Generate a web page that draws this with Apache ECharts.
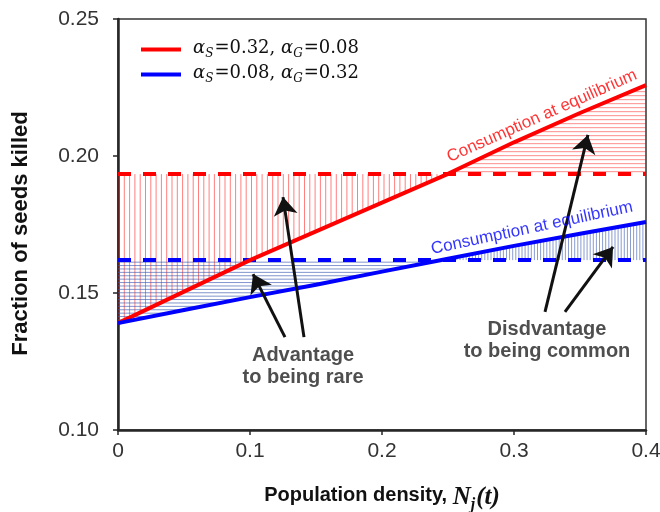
<!DOCTYPE html>
<html><head><meta charset="utf-8">
<script src="https://cdn.jsdelivr.net/npm/echarts@6/dist/echarts.min.js"></script>
<style>html,body{margin:0;padding:0;background:#fff}#c{width:660px;height:512px}</style>
</head><body><div id="c"></div>
<script>
// ---- data ----
const xDensity   = [0, 0.05, 0.1, 0.15, 0.2, 0.25, 0.3, 0.35, 0.4];
const redKilled  = [0.1390, 0.1505, 0.1620, 0.1725, 0.1830, 0.1935, 0.2050, 0.2157, 0.2259];
const blueKilled = [0.1390, 0.1438, 0.1485, 0.1530, 0.1578, 0.1625, 0.1672, 0.1716, 0.1759];
const redEquilibrium  = 0.1934;
const blueEquilibrium = 0.1620;
const alphaS = [0.32, 0.08];
const alphaG = [0.08, 0.32];
const seriesNames = ['aS=0.32,aG=0.08', 'aS=0.08,aG=0.32'];
const arrowTails = [[0.1265, 0.1339], [0.1409, 0.1339], [0.3235, 0.1431], [0.3386, 0.1431]];
const arrowTips  = [[0.1023, 0.1569], [0.1250, 0.1850], [0.3560, 0.2077], [0.3750, 0.1668]];
const noteTexts  = ['Advantage\nto being rare', 'Disdvantage\nto being common'];
const noteAnchors = [[0.1402, 0.1232], [0.3250, 0.1328]];
const curveLabelText = 'Consumption at equilibrium';
const curveLabelAnchors = [[0.3212, 0.2146], [0.3136, 0.1737]];

// ---- helpers ----
function pairs(xs, ys){ return xs.map((x,i)=>[x, ys[i]]); }
function interpY(pts, px){
  for (let i=0;i<pts.length-1;i++){const a=pts[i],b=pts[i+1];
    if(px>=a[0]&&px<=b[0]){const t=(px-a[0])/(b[0]-a[0]);return a[1]+t*(b[1]-a[1]);}}
  return null;
}
function interpX(pts, py){
  for (let i=0;i<pts.length-1;i++){const a=pts[i],b=pts[i+1];
    const lo=Math.min(a[1],b[1]),hi=Math.max(a[1],b[1]);
    if(py>=lo&&py<=hi){const t=(py-a[1])/(b[1]-a[1]);return a[0]+t*(b[0]-a[0]);}}
  return null;
}
const hatchRegions = [
  {curve: redKilled,  eq: redEquilibrium,  dir:'v', side:'below', step:5.3, color:'rgba(255,0,0,0.5)'},
  {curve: blueKilled, eq: blueEquilibrium, dir:'h', side:'below', step:3.4, color:'rgba(60,90,180,0.65)'},
  {curve: redKilled,  eq: redEquilibrium,  dir:'h', side:'above', step:4.0, color:'rgba(255,0,0,0.45)'},
  {curve: blueKilled, eq: blueEquilibrium, dir:'v', side:'above', step:3.1, color:'rgba(60,90,180,0.6)'}
];
function renderHatch(params, api){
  const r = hatchRegions[params.dataIndex];
  const pts = xDensity.map((x,i)=>api.coord([x, r.curve[i]]));
  const ey = api.coord([xDensity[0], r.eq])[1];
  const left = pts[0][0], right = pts[pts.length-1][0];
  const children = [];
  const st = {stroke: r.color, lineWidth: 1};
  if (r.dir === 'v'){
    for (let px = left + 1; px <= right; px += r.step){
      const cy = interpY(pts, px); if (cy == null) continue;
      if (r.side==='below' && cy > ey + 1) children.push({type:'line', shape:{x1:px,y1:ey,x2:px,y2:cy}, style:st});
      if (r.side==='above' && cy < ey - 1) children.push({type:'line', shape:{x1:px,y1:cy,x2:px,y2:ey}, style:st});
    }
  } else {
    const ys = pts.map(p=>p[1]);
    if (r.side==='below'){
      const maxY = Math.max(...ys);
      for (let py = ey + r.step*0.6; py <= maxY; py += r.step){
        const cx = interpX(pts, py); if (cx == null) continue;
        children.push({type:'line', shape:{x1:left,y1:py,x2:cx,y2:py}, style:st});
      }
    } else {
      const minY = Math.min(...ys);
      for (let py = ey - r.step*0.6; py >= minY; py -= r.step){
        const cx = interpX(pts, py); if (cx == null) continue;
        children.push({type:'line', shape:{x1:cx,y1:py,x2:right,y2:py}, style:st});
      }
    }
  }
  return {type:'group', children};
}

const SERIF = 'DejaVu Serif';
const legendRich = {
  n: {fontFamily:SERIF, fontSize:18, lineHeight:21, verticalAlign:'top', color:'#111'},
  a: {fontFamily:SERIF, fontStyle:'italic', fontSize:18, lineHeight:21, verticalAlign:'top', color:'#111'},
  s: {fontFamily:SERIF, fontStyle:'italic', fontSize:12, lineHeight:13, padding:[9,1,0,0], verticalAlign:'top', color:'#111'}
};
function legendLabel(name){
  const i = seriesNames.indexOf(name);
  return '{a|α}{s|S}{n|=' + alphaS[i].toFixed(2) + ', }{a|α}{s|G}{n|=' + alphaG[i].toFixed(2) + '}';
}

const chart = echarts.init(document.getElementById('c'), null, {renderer:'canvas'});
chart.setOption({
  animation: false,
  backgroundColor: '#fff',
  grid: {left:118, right:14, top:19, bottom:82, show:true, borderColor:'#333', borderWidth:1.5,
         backgroundColor:'transparent', containLabel:false, outerBoundsMode:'none'},
  legend: {
    data: seriesNames.map(n=>({name:n, icon:'rect'})), orient:'vertical', left:136, top:34,
    itemWidth:40, itemHeight:4, itemGap:4,
    formatter: legendLabel,
    textStyle: {rich: legendRich, padding:[0,0,0,7]}
  },
  xAxis: {
    type:'value', min:0, max:0.4, interval:0.1,
    splitLine:{show:false},
    axisLine:{lineStyle:{color:'#262626', width:2.5}},
    axisTick:{show:true, length:5, lineStyle:{color:'#262626', width:1.5}},
    axisLabel:{margin:11, fontFamily:'Liberation Sans', fontSize:21, color:'#333',
      formatter: v => v === 0 ? '0' : v.toFixed(1)},
    name: '{b|Population density, }{m|N}{j|j}{m|(t)}',
    nameLocation:'middle', nameGap:55,
    nameTextStyle:{rich:{
      b:{fontFamily:'Liberation Sans', fontWeight:'bold', fontSize:20, lineHeight:28, verticalAlign:'top', color:'#111'},
      m:{fontFamily:'Liberation Serif', fontWeight:'bold', fontStyle:'italic', fontSize:25, lineHeight:28, verticalAlign:'top', color:'#111'},
      j:{fontFamily:'Liberation Serif', fontWeight:'bold', fontStyle:'italic', fontSize:16, lineHeight:16, padding:[12,1,0,0], verticalAlign:'top', color:'#111'}
    }}
  },
  yAxis: {
    type:'value', min:0.10, max:0.25, interval:0.05,
    splitLine:{show:false},
    axisLine:{show:true, lineStyle:{color:'#262626', width:2.5}},
    axisTick:{show:true, length:5, lineStyle:{color:'#262626', width:1.5}},
    axisLabel:{margin:19, fontFamily:'Liberation Sans', fontSize:21, color:'#333',
      formatter: v => v.toFixed(2)},
    name:'Fraction of seeds killed', nameLocation:'middle', nameGap:86,
    nameTextStyle:{fontFamily:'Liberation Sans', fontWeight:'bold', fontSize:22, color:'#111', padding:[0,18,0,0]}
  },
  series: [
    {type:'custom', coordinateSystem:'cartesian2d', renderItem: renderHatch, silent:true, z:1, clip:true,
     data: hatchRegions.map(()=>[0, 0.1])},
    {type:'line', name:seriesNames[0], data: pairs(xDensity, redKilled), symbol:'none', showSymbol:false, z:5,
     lineStyle:{color:'#ff0000', width:4}, itemStyle:{color:'#ff0000'}},
    {type:'line', name:seriesNames[1], data: pairs(xDensity, blueKilled), symbol:'none', showSymbol:false, z:5,
     lineStyle:{color:'#0000ff', width:4}, itemStyle:{color:'#0000ff'}},
    {type:'line', data: [[xDensity[0], redEquilibrium], [xDensity[xDensity.length-1], redEquilibrium]], symbol:'none', z:4,
     lineStyle:{color:'#ff0000', width:4, type:[13,12]}},
    {type:'line', data: [[xDensity[0], blueEquilibrium], [xDensity[xDensity.length-1], blueEquilibrium]], symbol:'none', z:4,
     lineStyle:{color:'#0000ff', width:4, type:[13,12]}},
    {type:'lines', coordinateSystem:'cartesian2d', z:6, silent:true,
     symbol:['none','arrow'], symbolSize:[0,18],
     lineStyle:{color:'#111', width:3, opacity:1, curveness:0},
     data: arrowTails.map((t,i)=>({coords:[t, arrowTips[i]]}))},
    {type:'scatter', symbolSize:0, z:7, silent:true,
     data: noteAnchors.map((p,i)=>({value:p, name:noteTexts[i]})),
     label:{show:true, position:'inside', formatter: p => p.name, fontFamily:'Liberation Sans', fontWeight:'bold',
       fontSize:20, lineHeight:22, color:'#222', align:'center', verticalAlign:'middle'}},
    {type:'scatter', symbolSize:0, z:7, silent:true,
     data: [
       {value:curveLabelAnchors[0], label:{color:'#ff0000', rotate:24}},
       {value:curveLabelAnchors[1], label:{color:'#0000ff', rotate:12}}
     ],
     label:{show:true, position:'inside', formatter: curveLabelText, fontFamily:'Liberation Sans', fontSize:17, align:'center', verticalAlign:'middle'}}
  ]
});
</script></body></html>
